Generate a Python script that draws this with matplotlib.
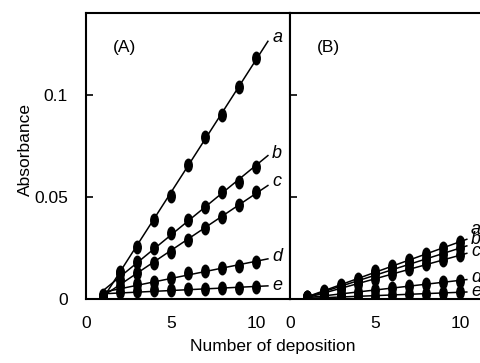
import matplotlib
matplotlib.use("Agg")
import matplotlib.pyplot as plt
from matplotlib.path import Path
from matplotlib.transforms import Affine2D
import numpy as np

plt.rcParams['font.family'] = ['Liberation Sans', 'DejaVu Sans']

# data
n_dep = [1, 2, 3, 4, 5, 6, 7, 8, 9, 10]
series_names = ['a', 'b', 'c', 'd', 'e']

abs_A = {
    'a': [0.002, 0.013, 0.0255, 0.0387, 0.0505, 0.0657, 0.0794, 0.090, 0.104, 0.118],
    'b': [0.001, 0.0127, 0.018, 0.025, 0.0324, 0.0387, 0.0451, 0.0525, 0.0574, 0.0647],
    'c': [0.0005, 0.0093, 0.0127, 0.0176, 0.023, 0.0289, 0.0348, 0.0402, 0.0461, 0.0525],
    'd': [0.001, 0.0064, 0.0074, 0.0083, 0.0103, 0.0127, 0.0137, 0.0152, 0.016, 0.018],
    'e': [0.001, 0.0035, 0.004, 0.0042, 0.0045, 0.0048, 0.005, 0.0052, 0.0055, 0.0058],
}
abs_B = {
    'a': [0.001, 0.004, 0.007, 0.010, 0.0135, 0.016, 0.019, 0.022, 0.025, 0.028],
    'b': [0.001, 0.0035, 0.006, 0.009, 0.012, 0.0145, 0.017, 0.0195, 0.022, 0.025],
    'c': [0.0008, 0.003, 0.005, 0.0075, 0.010, 0.012, 0.0145, 0.017, 0.019, 0.0215],
    'd': [0.0005, 0.0015, 0.0025, 0.0035, 0.0045, 0.0055, 0.0063, 0.0072, 0.0082, 0.009],
    'e': [0.0003, 0.0007, 0.001, 0.0013, 0.0016, 0.002, 0.0023, 0.0026, 0.003, 0.0033],
}
x_ticks = [0, 5, 10]
y_ticks = [0, 0.05, 0.1]
y_ticklabels = ['0', '0.05', '0.1']

FS = 12.5

# tall ellipse marker
dot = Path.unit_circle().transformed(Affine2D().scale(0.6, 1.0))

fig = plt.figure(figsize=(4.8, 3.63), dpi=100)
axA = fig.add_axes([86/480, 64/363, 204/480, 286/363])
axB = fig.add_axes([290/480, 64/363, 204/480, 286/363])


def draw_panel(ax, data, tag, lab_dy, x_end):
    for name in series_names:
        y = np.array(data[name])
        k, b = np.polyfit(n_dep, y, 1)
        xs = np.array([1, x_end])
        ax.plot(xs, k * xs + b, color='black', lw=1.1)
        ax.plot(n_dep, y, linestyle='none', marker=dot, markersize=9,
                color='black')
        ax.text(x_end + 0.25, k * x_end + b + lab_dy[name], name,
                style='italic', fontsize=13, ha='left', va='center')
    ax.set_xlim(0, 12)
    ax.set_ylim(0, 0.14)
    ax.set_xticks(x_ticks)
    ax.set_xticklabels([str(t) for t in x_ticks], fontsize=FS)
    ax.tick_params(axis='x', length=0, pad=12)
    ax.set_yticks(y_ticks[1:])
    ax.tick_params(axis='y', direction='in', length=5, width=1.2)
    for s in ax.spines.values():
        s.set_linewidth(1.5)
    ax.text(0.13, 0.878, tag, transform=ax.transAxes, fontsize=FS,
            ha='left', va='center')


draw_panel(axA, abs_A, '(A)',
           {'a': 0.002, 'b': 0.001, 'c': 0.002, 'd': 0.001, 'e': 0.0}, 10.7)
draw_panel(axB, abs_B, '(B)',
           {'a': 0.005, 'b': 0.003, 'c': 0.001, 'd': 0.001, 'e': 0.0}, 10.4)

axA.set_yticks(y_ticks)
axA.set_yticklabels(y_ticklabels, fontsize=FS)
axA.tick_params(axis='y', which='major', pad=13)
# zero tick drawn without a mark, as in the figure
axA.yaxis.get_major_ticks()[0].tick1line.set_visible(False)
axB.set_yticklabels([])

fig.text(25/480, 1 - 150/363, 'Absorbance', rotation=90, ha='center',
         va='center', fontsize=FS)
fig.text(273/480, 1 - 347/363, 'Number of deposition', ha='center',
         va='center', fontsize=FS)

fig.savefig('out.png', dpi=100)
